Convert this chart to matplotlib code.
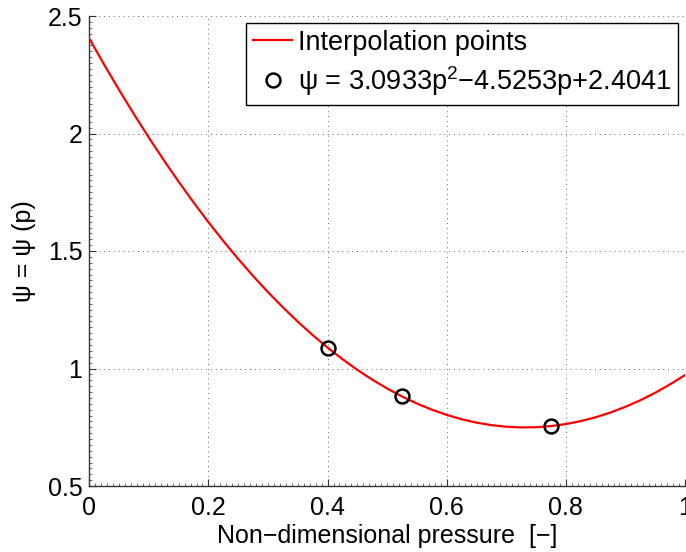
import matplotlib
matplotlib.use("Agg")
import matplotlib.pyplot as plt
from matplotlib.ticker import MultipleLocator

# Curve (at steps of 0.025)
curve_p = [0.000, 0.025, 0.050, 0.075, 0.100, 0.125, 0.150, 0.175, 0.200,
           0.225, 0.250, 0.275, 0.300, 0.325, 0.350, 0.375, 0.400, 0.425,
           0.450, 0.475, 0.500, 0.525, 0.550, 0.575, 0.600, 0.625, 0.650,
           0.675, 0.700, 0.725, 0.750, 0.775, 0.800, 0.825, 0.850, 0.875,
           0.900, 0.925, 0.950, 0.975, 1.000]
curve_psi = [2.4041, 2.2929, 2.1856, 2.0821, 1.9825, 1.8868, 1.7949, 1.7069,
             1.6228, 1.5425, 1.4661, 1.3936, 1.3249, 1.2601, 1.1992, 1.1421,
             1.0889, 1.0396, 0.9941, 0.9525, 0.9148, 0.8809, 0.8509, 0.8248,
             0.8025, 0.7841, 0.7696, 0.7589, 0.7521, 0.7492, 0.7501, 0.7549,
             0.7636, 0.7761, 0.7925, 0.8128, 0.8369, 0.8649, 0.8968, 0.9326,
             0.9721]

# Interpolation points
pts_p = [0.400, 0.525, 0.775]
pts_psi = [1.089, 0.881, 0.755]

x_ticks = [0, 0.2, 0.4, 0.6, 0.8, 1]
x_ticklabels = ["0", "0.2", "0.4", "0.6", "0.8", "1"]
y_ticks = [0.5, 1, 1.5, 2, 2.5]
y_ticklabels = ["0.5", "1", "1.5", "2", "2.5"]

label_curve = "Interpolation points"
label_pts = r"ψ = 3.0933$\mathrm{p}^{2}$−4.5253p+2.4041"

plt.rcParams['font.family'] = ['Liberation Sans', 'DejaVu Sans']
plt.rcParams['mathtext.fontset'] = 'custom'
plt.rcParams['mathtext.rm'] = 'Liberation Sans'
plt.rcParams['mathtext.it'] = 'Liberation Sans'

fig = plt.figure(figsize=(6.86, 5.52), dpi=100)
ax = fig.add_axes([89.3 / 686, (552 - 486) / 552, 595.7 / 686, 470 / 552])

ax.plot(curve_p, curve_psi, color='#ff0000', lw=1.6, label=label_curve,
        zorder=3, solid_joinstyle='round')
ax.plot(pts_p, pts_psi, linestyle='none', marker='o', markersize=10,
        markerfacecolor='none', markeredgecolor='black', markeredgewidth=1.8,
        label=label_pts, zorder=4)

ax.set_xlim(0, 1)
ax.set_ylim(0.5, 2.5)
ax.set_xticks(x_ticks)
ax.set_xticklabels(x_ticklabels)
ax.set_yticks(y_ticks)
ax.set_yticklabels(y_ticklabels)
ax.xaxis.set_minor_locator(MultipleLocator(0.01))
ax.yaxis.set_minor_locator(MultipleLocator(0.025))

ax.spines['top'].set_visible(False)
ax.spines['right'].set_visible(False)
for s in ('left', 'bottom'):
    ax.spines[s].set_color('#333333')
    ax.spines[s].set_linewidth(1.0)

ax.tick_params(which='major', direction='in', length=5, width=0.8,
               color='#333333', labelsize=18, top=False, right=False)
ax.tick_params(axis='x', which='major', pad=7)
ax.tick_params(axis='y', which='major', pad=5)
ax.tick_params(which='minor', direction='in', length=2, width=0.6,
               color='#555555', top=False, right=False)

ax.grid(True, which='major', linestyle=(0, (1, 4)), color='#666666', linewidth=0.7)

ax.set_xlabel("Non−dimensional pressure  [−]", fontsize=18, labelpad=3)
ax.set_ylabel("ψ = ψ (p)", fontsize=18, labelpad=8)

leg = ax.legend(loc='upper right', bbox_to_anchor=(0.988, 0.985),
                borderaxespad=0, fontsize=19.5, fancybox=False, framealpha=1,
                edgecolor='black', handlelength=1.45, handletextpad=0.2,
                borderpad=0.25, labelspacing=0.3)
leg.get_frame().set_linewidth(1.0)

fig.savefig("out.png", dpi=100)
